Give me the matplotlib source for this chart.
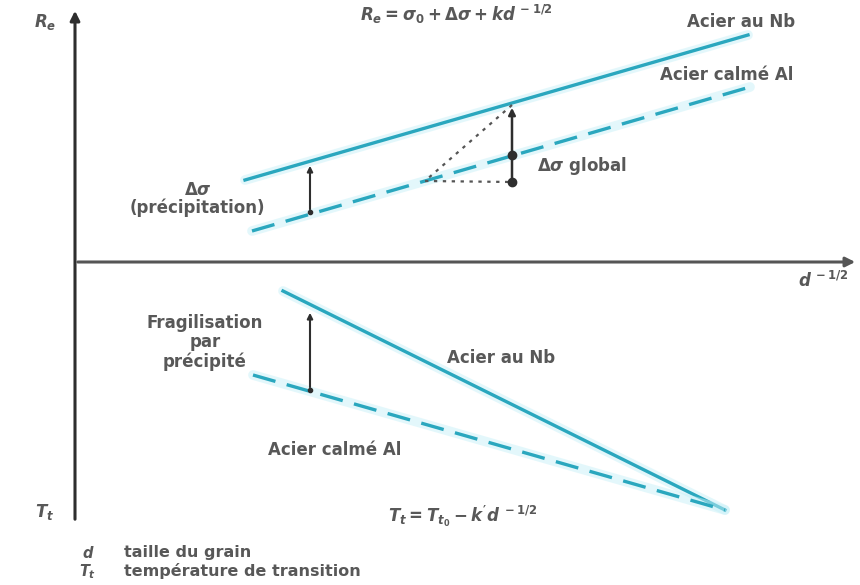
import matplotlib.pyplot as plt

plt.rcParams['font.family'] = 'DejaVu Sans'
plt.rcParams['mathtext.fontset'] = 'custom'
plt.rcParams['mathtext.it'] = 'DejaVu Sans:italic:bold'
plt.rcParams['mathtext.rm'] = 'DejaVu Sans:bold'

# Schematic coordinates (x to the right, y downwards)
# Upper panel: yield strength Re vs d^-1/2
nb_top_x = [245, 748]
nb_top_y = [180, 35]
al_top_x = [252, 750]
al_top_y = [231, 87]

# Lower panel: transition temperature Tt vs d^-1/2
nb_bot_x = [283, 725]
nb_bot_y = [291, 510]
al_bot_x = [253, 725]
al_bot_y = [375, 510]

# Construction for the global Δσ
glob_x = 512
glob_y = [105, 155, 182]
dot_x = [512, 425, 512]
dot_y = [105, 181, 182]

# Vertical arrows
prec_x, prec_y = 310, [163, 212]
frag_x, frag_y = 310, [310, 390]

line_col = '#2aa7be'
halo_col = '#c8f1f8'
ink = '#2e2e2e'
text_col = '#585858'
dash = (0, (7, 3.5))

fig = plt.figure(figsize=(8.6, 5.85), dpi=100)
ax = fig.add_axes([0, 0, 1, 1])
ax.set_xlim(0, 860)
ax.set_ylim(585, 0)
ax.axis('off')

# Axes of the diagram
ax.annotate('', xy=(75, 8), xytext=(75, 522),
            arrowprops=dict(arrowstyle='-|>', color=ink, lw=2.2, mutation_scale=14))
ax.annotate('', xy=(858, 262), xytext=(75, 262),
            arrowprops=dict(arrowstyle='-|>', color='#555555', lw=2.2, mutation_scale=14))

# Curves with a light halo
for xs, ys, ls in [(nb_top_x, nb_top_y, '-'), (al_top_x, al_top_y, dash),
                   (nb_bot_x, nb_bot_y, '-'), (al_bot_x, al_bot_y, dash)]:
    ax.plot(xs, ys, color=halo_col, lw=7, solid_capstyle='round', alpha=0.5)
    ax.plot(xs, ys, color=line_col, lw=2.4, linestyle=ls)

# Dotted construction
ax.plot(dot_x, dot_y, color='#555555', lw=1.6, linestyle=(0, (1.5, 2.5)))

# Global Δσ arrow with its markers
ax.annotate('', xy=(glob_x, glob_y[0]), xytext=(glob_x, glob_y[2]),
            arrowprops=dict(arrowstyle='-|>', color=ink, lw=1.8, mutation_scale=10))
ax.plot([glob_x, glob_x], glob_y[1:], 'o', color=ink, ms=6)

# Precipitation arrows
for x, ys in [(prec_x, prec_y), (frag_x, frag_y)]:
    ax.annotate('', xy=(x, ys[0]), xytext=(x, ys[1]),
                arrowprops=dict(arrowstyle='-|>', color=ink, lw=1.5, mutation_scale=8))
    ax.plot([x], [ys[1]], 'o', color=ink, ms=3)

bold = dict(color=text_col, fontweight='bold')
fs = 12

# Labels
ax.text(45, 22, r'$R_e$', fontsize=fs, ha='center', va='center', **bold)
ax.text(45, 512, r'$T_t$', fontsize=fs, ha='center', va='center', **bold)
ax.text(456, 14, r'$R_e = \sigma_0 + \Delta\sigma + k d^{\,-1/2}$', fontsize=fs,
        ha='center', va='center', **bold)
ax.text(823, 281, r'$d^{\,-1/2}$', fontsize=fs, ha='center', va='center', **bold)
ax.text(463, 516, r"$T_t = T_{t_0} - k^{\prime} d^{\,-1/2}$", fontsize=fs,
        ha='center', va='center', **bold)

ax.text(687, 22, 'Acier au Nb', fontsize=fs, ha='left', va='center', **bold)
ax.text(660, 75, 'Acier calmé Al', fontsize=fs, ha='left', va='center', **bold)
ax.text(198, 190, r'$\Delta\sigma$', fontsize=fs, ha='center', va='center', **bold)
ax.text(197, 208, '(précipitation)', fontsize=fs, ha='center', va='center', **bold)
ax.text(537, 166, r'$\Delta\sigma$ global', fontsize=fs, ha='left', va='center', **bold)

ax.text(205, 314, 'Fragilisation\npar\nprécipité', fontsize=fs,
        ha='center', va='top', linespacing=1.1, **bold)
ax.text(447, 358, 'Acier au Nb', fontsize=fs, ha='left', va='center', **bold)
ax.text(268, 450, 'Acier calmé Al', fontsize=fs, ha='left', va='center', **bold)

# Legend of symbols
fs_leg = 10.5
ax.text(88, 553, r'$d$', fontsize=fs_leg, ha='center', va='center', **bold)
ax.text(88, 572, r'$T_t$', fontsize=fs_leg, ha='center', va='center', **bold)
ax.text(124, 553, 'taille du grain', fontsize=fs_leg + 1, ha='left', va='center', **bold)
ax.text(124, 571, 'température de transition', fontsize=fs_leg + 1,
        ha='left', va='center', **bold)

fig.savefig('out.png', dpi=100)
